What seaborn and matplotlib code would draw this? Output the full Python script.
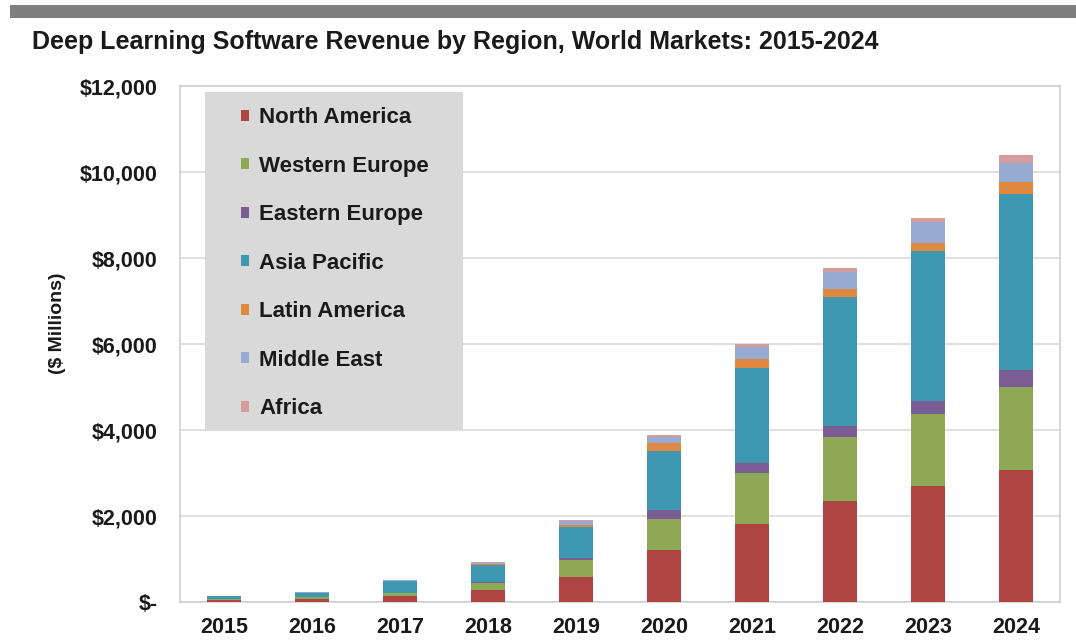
import matplotlib
matplotlib.use("Agg")
import matplotlib.pyplot as plt
import seaborn as sns
import numpy as np
import pandas as pd
from matplotlib.patches import Patch, Rectangle
from matplotlib.ticker import FixedLocator

years = ["2015", "2016", "2017", "2018", "2019", "2020", "2021", "2022", "2023", "2024"]
regions = ["North America", "Western Europe", "Eastern Europe", "Asia Pacific",
           "Latin America", "Middle East", "Africa"]
north_america = [40, 70, 130, 280, 590, 1200, 1820, 2360, 2690, 3060]
western_europe = [30, 40, 70, 170, 380, 730, 1190, 1480, 1680, 1930]
eastern_europe = [5, 5, 10, 25, 50, 200, 220, 260, 300, 410]
asia_pacific = [60, 100, 270, 390, 720, 1380, 2220, 3000, 3490, 4080]
latin_america = [3, 5, 10, 20, 50, 180, 210, 190, 200, 280]
middle_east = [5, 10, 15, 30, 90, 150, 270, 380, 470, 460]
africa = [2, 5, 5, 10, 30, 40, 80, 90, 110, 170]
colors = ["#AE4542", "#8EA855", "#7A5D95", "#3F98B1", "#E0883F", "#97AAD2", "#D49C9C"]
yticks = [0, 2000, 4000, 6000, 8000, 10000, 12000]
ytick_labels = ["$-", "$2,000", "$4,000", "$6,000", "$8,000", "$10,000", "$12,000"]

series = [north_america, western_europe, eastern_europe, asia_pacific,
          latin_america, middle_east, africa]
df = pd.DataFrame({r: s for r, s in zip(regions, series)}, index=years)
cum = df.cumsum(axis=1)

sns.set_theme(style="white")
plt.rcParams["font.family"] = ["Liberation Sans", "DejaVu Sans"]
plt.rcParams["font.weight"] = "bold"

W, H = 1076, 641
fig = plt.figure(figsize=(W / 100, H / 100), dpi=100)
fig.patch.set_facecolor("white")
ax = fig.add_axes([180 / W, 1 - 602 / H, (1060 - 180) / W, (602 - 86) / H])

# stacked bars: draw cumulative totals from the top layer down
for r, c in reversed(list(zip(regions, colors))):
    sns.barplot(x=years, y=cum[r].values, color=c, width=0.39, ax=ax,
                saturation=1, edgecolor="none", linewidth=0, zorder=3)

ax.set_ylim(0, 12000)
ax.set_xlim(-0.5, 9.5)
ax.yaxis.set_major_locator(FixedLocator(yticks))
ax.set_yticklabels(ytick_labels)
ax.grid(axis="y", color="#D9D9D9", linewidth=1.2, zorder=0)
ax.set_axisbelow(True)
for s in ax.spines.values():
    s.set_color("#D0D0D0")
    s.set_linewidth(1.2)
ax.tick_params(axis="y", labelsize=15.5, pad=16, length=0, labelcolor="#1a1a1a")
ax.tick_params(axis="x", labelsize=15.5, pad=11, length=0, labelcolor="#1a1a1a")
for lab in ax.get_xticklabels() + ax.get_yticklabels():
    lab.set_fontweight("bold")
ax.set_xlabel("")
ax.set_ylabel("")
fig.text(58 / W, 1 - 323 / H, "($ Millions)", rotation=90, fontsize=14,
         fontweight="bold", ha="center", va="center", color="#1a1a1a")

# legend background box
bg = Rectangle((205 / W, 1 - 430 / H), (463 - 205) / W, (430 - 92) / H,
               transform=fig.transFigure, facecolor="#D9D9D9",
               edgecolor="none", zorder=4, clip_on=False)
ax.add_artist(bg)
handles = [Patch(facecolor=c, edgecolor="none") for c in colors]
leg = ax.legend(handles, regions, loc="upper left",
                bbox_to_anchor=(241 / W, 1 - 107 / H), bbox_transform=fig.transFigure,
                frameon=False, prop={"size": 16, "weight": "bold"},
                handlelength=0.38, handleheight=0.38, handletextpad=0.45,
                labelspacing=1.24, borderpad=0, borderaxespad=0)
for t in leg.get_texts():
    t.set_color("#1a1a1a")
leg.set_zorder(6)

fig.patches.append(Rectangle((10 / W, 1 - 18 / H), 1 - 10 / W, 13 / H,
                             transform=fig.transFigure, facecolor="#7F7F7F",
                             edgecolor="none"))
fig.text(32 / W, 1 - 42 / H, "Deep Learning Software Revenue by Region, World Markets: 2015-2024",
         fontsize=18, fontweight="bold", va="center", ha="left", color="#1a1a1a")

fig.savefig("out.png", dpi=100)
